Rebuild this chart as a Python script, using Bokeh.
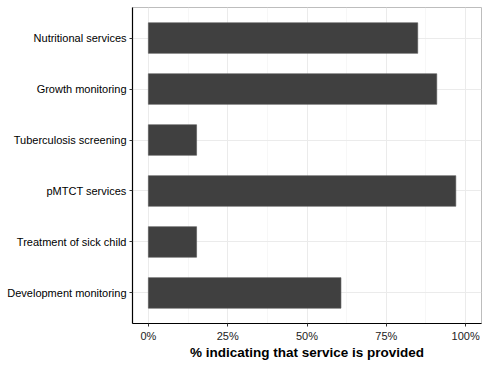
from bokeh.plotting import figure
from bokeh.models import FactorRange, Range1d, FixedTicker, ColumnDataSource
from bokeh.embed import file_html
from bokeh.resources import INLINE

services = ["Nutritional services", "Growth monitoring", "Tuberculosis screening",
            "pMTCT services", "Treatment of sick child", "Development monitoring"]
percent = [84.9, 90.9, 15.2, 96.9, 15.2, 60.7]
x_ticks = [0, 25, 50, 75, 100]
x_tick_labels = ["0%", "25%", "50%", "75%", "100%"]
x_minor = [12.5, 37.5, 62.5, 87.5]

source = ColumnDataSource(data=dict(service=services, percent=percent))

p = figure(width=482, height=362, output_backend="svg", toolbar_location=None,
           y_range=FactorRange(factors=services[::-1], range_padding=0.1,
                               range_padding_units="absolute"),
           x_range=Range1d(-5, 105))
p.min_border_left = 132
p.min_border_right = 1
p.min_border_top = 7
p.min_border_bottom = 30

p.hbar(y="service", right="percent", left=0, height=0.6, source=source,
       fill_color="#404040", line_color="#555555", line_width=0.6)

p.xaxis.ticker = FixedTicker(ticks=x_ticks, minor_ticks=x_minor)
p.xaxis.major_label_overrides = {t: l for t, l in zip(x_ticks, x_tick_labels)}
p.xaxis.axis_label = "% indicating that service is provided"
p.xaxis.axis_label_text_font = "Liberation Sans"
p.xaxis.axis_label_text_font_style = "bold"
p.xaxis.axis_label_text_font_size = "13.5px"
p.xaxis.axis_label_text_color = "black"
p.xaxis.axis_label_standoff = 0

for ax in (p.xaxis, p.yaxis):
    ax.axis_line_color = "black"
    ax.axis_line_width = 1.2
    ax.major_tick_line_color = "#333333"
    ax.major_tick_out = 3
    ax.major_tick_in = 0
    ax.minor_tick_line_color = None
    ax.major_label_text_font = "Liberation Sans"
    ax.major_label_text_font_size = "11px"
    ax.major_label_standoff = 3

p.xaxis.major_label_standoff = 2
p.xaxis.major_label_text_color = "#222222"
p.yaxis.major_label_text_color = "black"

p.xgrid.grid_line_color = "#ebebeb"
p.xgrid.grid_line_width = 1
p.xgrid.minor_grid_line_color = "#f2f2f2"
p.xgrid.minor_grid_line_width = 0.6
p.ygrid.grid_line_color = "#ebebeb"
p.ygrid.grid_line_width = 1

p.outline_line_color = "#bdbdbd"
p.outline_line_width = 1

open("out.html", "w").write(file_html(p, INLINE))
